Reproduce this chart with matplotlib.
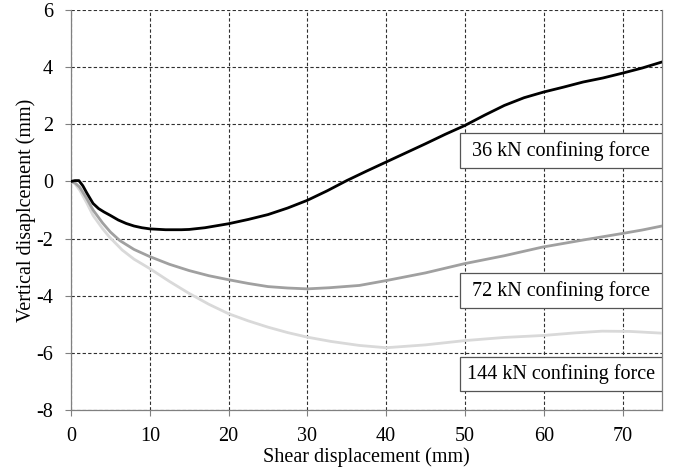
import matplotlib
matplotlib.use("Agg")
import matplotlib.pyplot as plt
from matplotlib.patches import Rectangle

plt.rcParams['font.family'] = ['Liberation Serif', 'DejaVu Serif']
plt.rcParams['axes.unicode_minus'] = False

# --- Data (shear displacement mm, vertical displacement mm) ---
x_36 = [0, 0.5, 1.0, 1.5, 2.0, 2.8, 3.5, 4.2, 5.0, 6.0, 7.0, 8.0, 9.0, 10, 12, 14, 15, 17, 20, 22.5,
        25, 27.5, 30, 32.5, 35, 37.5, 40, 42.5, 45, 47.5, 50, 52.5, 55, 57.5, 60, 62.5, 65, 67.5,
        70, 72.5, 75]
y_36 = [0, 0.03, 0.03, -0.15, -0.4, -0.77, -0.95, -1.07, -1.19, -1.35, -1.47, -1.56, -1.62, -1.66,
        -1.69, -1.69, -1.68, -1.62, -1.48, -1.33, -1.16, -0.93, -0.66, -0.33, 0.03, 0.36, 0.68,
        1.0, 1.32, 1.65, 1.96, 2.32, 2.66, 2.93, 3.13, 3.30, 3.48, 3.62, 3.79, 3.97, 4.18]

x_72 = [0, 0.5, 1.1, 2.0, 2.8, 4.0, 5.0, 6.2, 8.0, 10, 12.5, 15, 17.5, 20, 22.5, 25, 27.5, 30, 32.8,
        36.6, 40, 45, 49.9, 55, 59.8, 65, 69.8, 72.5, 75]
y_72 = [0, -0.05, -0.2, -0.6, -1.0, -1.45, -1.77, -2.07, -2.38, -2.63, -2.9, -3.12, -3.3, -3.44,
        -3.57, -3.68, -3.73, -3.76, -3.72, -3.64, -3.47, -3.2, -2.88, -2.6, -2.30, -2.05, -1.83,
        -1.70, -1.56]

x_144 = [0, 0.5, 1.1, 2.0, 2.8, 4.0, 4.9, 6.5, 8.0, 10, 12.5, 15, 17.5, 20, 22.5, 25, 27.5, 30, 33,
         36.6, 40, 45, 50, 55, 60, 64, 67.4, 71, 75]
y_144 = [0, -0.08, -0.3, -0.75, -1.19, -1.65, -1.95, -2.4, -2.72, -3.05, -3.5, -3.92, -4.3, -4.63,
         -4.88, -5.1, -5.29, -5.45, -5.6, -5.74, -5.82, -5.72, -5.57, -5.46, -5.39, -5.30, -5.24,
         -5.25, -5.31]

labels = ['36 kN confining force', '72 kN confining force', '144 kN confining force']
label_y = [1.08, -3.83, -6.74]
colors = ['#000000', '#a0a0a0', '#d9d9d9']

fig = plt.figure(figsize=(6.73, 4.68), dpi=100)
ax = fig.add_axes([0.1055, 0.1239, 0.878, 0.8547])

ax.plot(x_144, y_144, color=colors[2], lw=2.0, zorder=3)
ax.plot(x_72, y_72, color=colors[1], lw=2.0, zorder=3)
ax.plot(x_36, y_36, color=colors[0], lw=2.0, zorder=4)

ax.set_xlim(0, 75)
ax.set_ylim(-8, 6)
ax.set_xticks(range(0, 80, 10))
ax.set_yticks(range(-8, 7, 2))
ax.grid(True, linestyle=(0, (3, 2)), color='#303030', lw=0.8)
ax.set_axisbelow(True)

for side in ['left', 'bottom', 'right']:
    ax.spines[side].set_color('#808080')
    ax.spines[side].set_linewidth(0.9)
ax.spines['top'].set_visible(False)
ax.tick_params(axis='both', direction='out', length=4, color='#808080', labelsize=14.5, pad=9)
ax.tick_params(axis='x', pad=8)

ax.set_xlabel('Shear displacement (mm)', fontsize=14.5, labelpad=1)
ax.set_ylabel('Vertical disaplcement (mm)', fontsize=14.5, labelpad=0)

# fixed-width label boxes against the right edge
box_left, box_h = 49.4, 1.22
for lab, yy in zip(labels, label_y):
    ax.add_patch(Rectangle((box_left, yy - box_h / 2), 75 - box_left, box_h, fc='white',
                           ec='#555555', lw=0.9, zorder=5))
    ax.text((box_left + 75) / 2, yy, lab, ha='center', va='center', fontsize=14.5, zorder=6)

fig.savefig('out.png', dpi=100)
